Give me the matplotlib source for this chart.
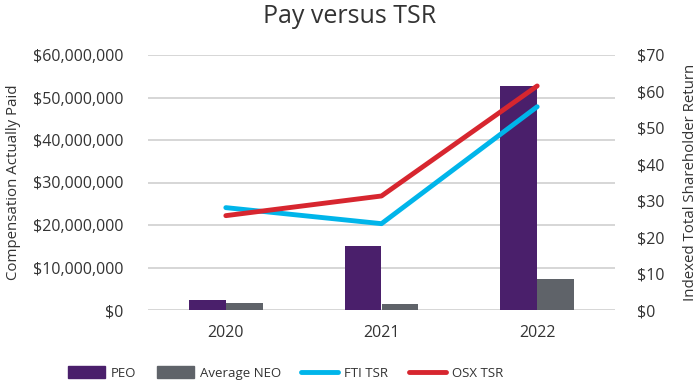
import matplotlib
matplotlib.use("Agg")
import matplotlib.pyplot as plt
from matplotlib.ticker import FuncFormatter
from matplotlib.lines import Line2D
from matplotlib.patches import Patch
import numpy as np

years = ["2020", "2021", "2022"]
peo = [2.35e6, 15.1e6, 52.6e6]
avg_neo = [1.65e6, 1.4e6, 7.4e6]
fti_tsr = [28.1, 23.7, 55.8]
osx_tsr = [25.9, 31.3, 61.5]

c_peo = "#4a1f6b"
c_neo = "#5f6369"
c_fti = "#00b5ea"
c_osx = "#d7262f"
txt = "#333333"

plt.rcParams['font.family'] = ['Open Sans', 'DejaVu Sans']

fig = plt.figure(figsize=(7, 3.82), dpi=100)
ax = fig.add_axes([148/700, 1-310/382, 467/700, 255/382])
ax2 = ax.twinx()

x = np.arange(len(years))
w = 0.237
ax.bar(x - w/2, peo, w, color=c_peo, zorder=3)
ax.bar(x + w/2, avg_neo, w, color=c_neo, zorder=3)
ax.set_ylim(0, 60e6)
ax.set_xlim(-0.5, 2.5)
ax.set_yticks(np.arange(0, 60e6 + 1, 10e6))
ax.yaxis.set_major_formatter(FuncFormatter(lambda v, p: "${:,.0f}".format(v)))
ax.grid(axis='y', color='#d0d0d0', linewidth=1.2, zorder=0)
ax.set_axisbelow(True)
ax.set_xticks(x)
ax.set_xticklabels(years)

ax2.plot(x, fti_tsr, color=c_fti, linewidth=3.5, solid_capstyle='round', zorder=4)
ax2.plot(x, osx_tsr, color=c_osx, linewidth=3.5, solid_capstyle='round', zorder=4)
ax2.set_ylim(0, 70)
ax2.set_yticks(np.arange(0, 71, 10))
ax2.yaxis.set_major_formatter(FuncFormatter(lambda v, p: "${:.0f}".format(v)))

for a in (ax, ax2):
    for s in a.spines.values():
        s.set_visible(False)
    a.tick_params(length=0, labelsize=11.5, colors=txt)
ax.tick_params(axis='y', pad=18)
ax2.tick_params(axis='y', pad=16)
ax.tick_params(axis='x', pad=11)

ax.set_ylabel("Compensation Actually Paid", fontsize=10.8, color=txt, labelpad=8)
ax2.set_ylabel("Indexed Total Shareholder Return", fontsize=10.8, color=txt, labelpad=13)

fig.suptitle("Pay versus TSR", fontsize=18, color=txt, y=0.99, fontweight=500)

handles = [Patch(color=c_peo), Patch(color=c_neo),
           Line2D([0], [0], color=c_fti, lw=3.5, solid_capstyle='round'),
           Line2D([0], [0], color=c_osx, lw=3.5, solid_capstyle='round')]
labels = ["PEO", "Average NEO", "FTI TSR", "OSX TSR"]
fig.legend(handles, labels, loc='center', bbox_to_anchor=(0.408, 1-373/382), ncol=4,
           frameon=False, fontsize=9.5, handlelength=2.8, handleheight=1.0,
           columnspacing=1.55, handletextpad=0.45, labelcolor=txt)

fig.savefig("out.png", dpi=100)
